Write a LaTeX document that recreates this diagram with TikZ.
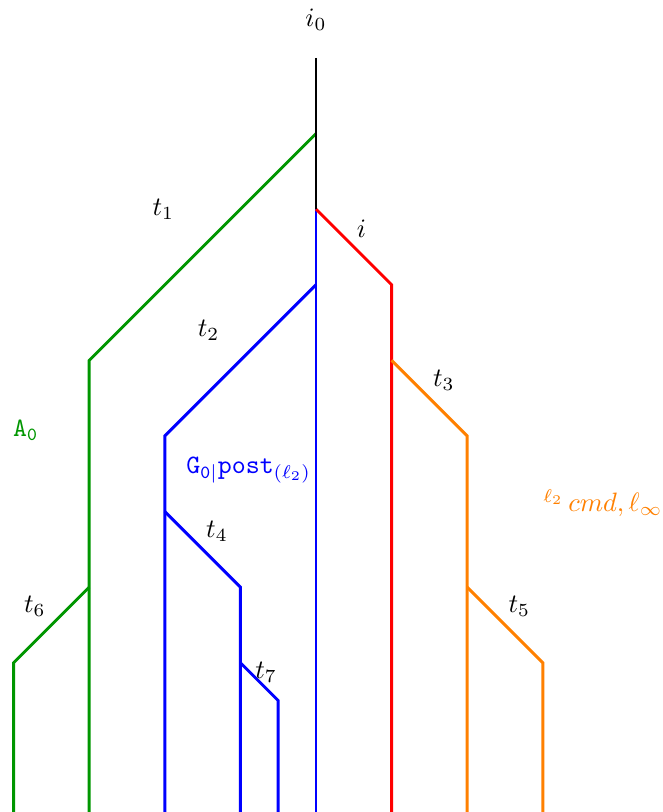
\documentclass[tikz,border=0pt]{standalone}
\begin{document}
\begin{tikzpicture}[x=1cm,y=1cm,
  br/.style={line width=1.1pt},
  lbl/.style={inner sep=0pt}]
\definecolor{gr}{RGB}{0,150,0}
\definecolor{orng}{RGB}{255,128,0}
\useasboundingbox (-4.18,0.026) rectangle (4.577,10.767);
% coordinates
\coordinate (top) at (0,10);
\coordinate (g0) at (0,9);
\coordinate (s) at (0,8);
\coordinate (r1) at (1,7);
\coordinate (rb) at (1,-0.2);
\coordinate (bb) at (0,-0.2);
\coordinate (b0) at (0,7);
\coordinate (b1) at (-2,5);
\coordinate (b2) at (-2,4);
\coordinate (b3) at (-1,3);
\coordinate (b4) at (-1,2);
\coordinate (b5) at (-0.5,1.5);
\coordinate (g1) at (-3,6);
\coordinate (g2) at (-3,3);
\coordinate (g3) at (-4,2);
\coordinate (o0) at (1,6);
\coordinate (o1) at (2,5);
\coordinate (o2) at (2,3);
\coordinate (o3) at (3,2);
% branches
\draw[br,blue] (s) -- (bb);
\draw[br,blue] (b0) -- (b1) -- (b1 |- bb);
\draw[br,blue] (b2) -- (b3) -- (b3 |- bb);
\draw[br,blue] (b4) -- (b5) -- (b5 |- bb);
\draw[br,red] (s) -- (r1) -- (rb);
\draw[br,orng] (o0) -- (o1) -- (o1 |- bb);
\draw[br,orng] (o2) -- (o3) -- (o3 |- bb);
\draw[br,gr] (g0) -- (g1) -- (g1 |- bb);
\draw[br,gr] (g2) -- (g3) -- (g3 |- bb);
\draw[br,black] (top) -- (s);
% labels
\node (li0) at (0,10.5) {$i_0$};
\node (lt1) at (-2.02,8.0) {$t_1$};
\node (li) at (0.6,7.74) {$i$};
\node (lt2) at (-1.42,6.4) {$t_2$};
\node (lt3) at (1.69,5.74) {$t_3$};
\node[gr] (lA) at (-3.84,5.08) {\texttt{A}$_{\mathtt{0}}$};
\node[blue] (lG) at (-0.89,4.55) {\texttt{G}$_{\mathtt{0}|}\mathtt{post}_{\raisebox{0.4ex}{$\scriptstyle(\ell_2)$}}$};
\node[orng,anchor=west,lbl] (lO) at (3.0,4.11) {$^{\ell_2}\,cmd,\ell_\infty$};
\node (lt4) at (-1.31,3.74) {$t_4$};
\node (lt6) at (-3.72,2.75) {$t_6$};
\node (lt5) at (2.69,2.75) {$t_5$};
\node (lt7) at (-0.66,1.88) {$t_7$};
\end{tikzpicture}
\end{document}
